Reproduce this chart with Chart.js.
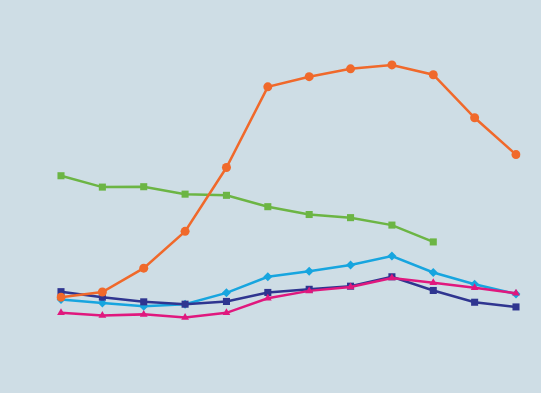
<!DOCTYPE html>
<html>
<head>
<meta charset="utf-8">
<script src="https://cdn.jsdelivr.net/npm/chart.js@4"></script>
<style>
  html, body { margin: 0; padding: 0; background: #cedde5; }
  #wrap { width: 541px; height: 393px; }
</style>
</head>
<body>
<div id="wrap"><canvas id="lineChart"></canvas></div>
<script>
const periods = ['1', '2', '3', '4', '5', '6', '7', '8', '9', '10', '11', '12'];

const orangeSeries = [24.4, 25.7, 31.8, 41.2, 57.5, 78.1, 80.7, 82.7, 83.7, 81.2, 70.2, 60.8];
const greenSeries = [55.4, 52.5, 52.6, 50.7, 50.4, 47.5, 45.5, 44.7, 42.8, 38.5, null, null];
const blueSeries = [23.8, 22.9, 22.1, 22.6, 25.5, 29.6, 31.0, 32.6, 34.9, 30.7, 27.7, 25.2];
const navySeries = [25.8, 24.4, 23.2, 22.6, 23.3, 25.6, 26.4, 27.2, 29.6, 26.1, 23.1, 21.9];
const pinkSeries = [20.4, 19.7, 20.0, 19.2, 20.4, 24.1, 26.0, 27.0, 29.3, 28.1, 26.8, 25.4];

const line = (data, color, style, radius, order) => ({
  data: data,
  borderColor: color,
  backgroundColor: color,
  borderWidth: 2.5,
  pointStyle: style,
  pointRadius: radius,
  pointBorderWidth: 0,
  tension: 0,
  spanGaps: false,
  order: order
});

const ctx = document.getElementById('lineChart');
new Chart(ctx, {
  type: 'line',
  data: {
    labels: periods,
    datasets: [
      line(orangeSeries, '#f0692b', 'circle', 4.5, 1),
      line(greenSeries, '#6cb544', 'rect', 5, 2),
      line(pinkSeries, '#e0187e', 'triangle', 4.5, 3),
      line(navySeries, '#2f3590', 'rect', 5, 4),
      line(blueSeries, '#17a5df', 'rectRot', 4.5, 5)
    ]
  },
  options: {
    responsive: true,
    maintainAspectRatio: false,
    animation: false,
    layout: { padding: { left: 61, right: 25, top: 0, bottom: 0 } },
    plugins: {
      legend: { display: false },
      tooltip: { enabled: false }
    },
    scales: {
      x: { display: false },
      y: { display: false, min: 1.2, max: 99 }
    }
  }
});
</script>
</body>
</html>
